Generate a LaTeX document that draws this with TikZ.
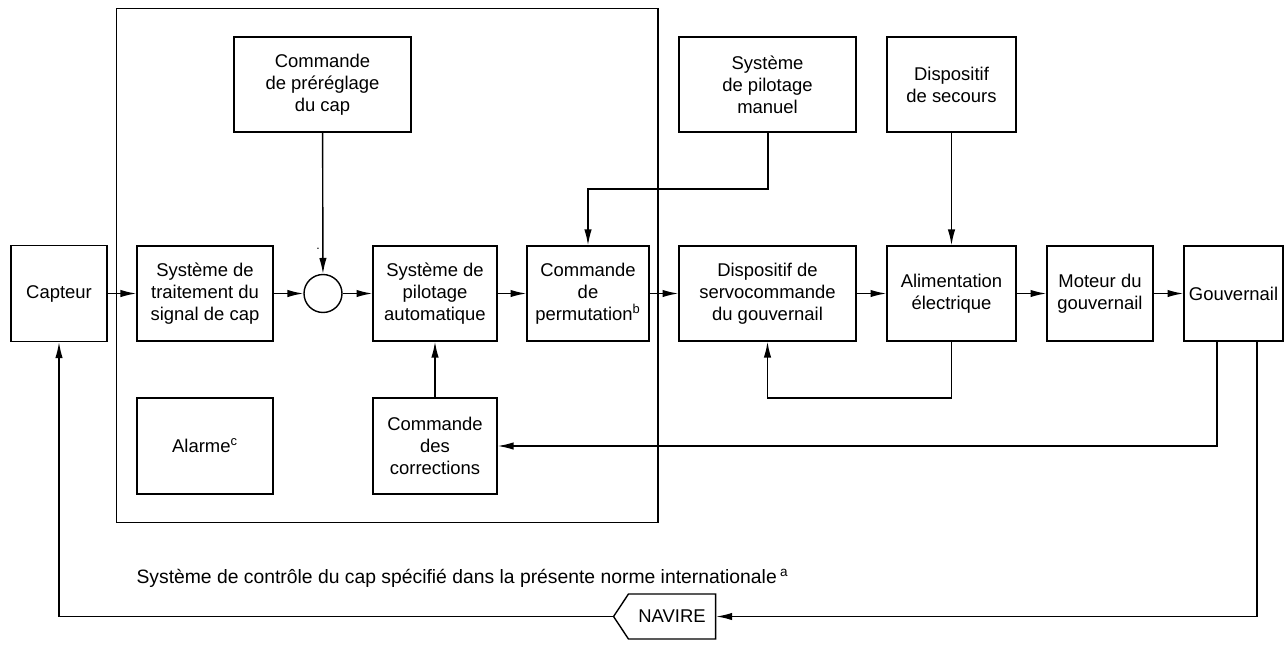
\documentclass[tikz,border=0pt]{standalone}
\usepackage{fontspec}
\setmainfont{Liberation Sans}
\usetikzlibrary{arrows.meta, shapes.symbols, positioning}
\tikzset{
    bloc/.style={draw, rectangle, align=center, inner sep=1pt, minimum height=1.9cm,
        font=\fontsize{10.5}{12.5}\selectfont},
    fleche/.style={-{Latex[length=9pt, width=4.2pt]}}
}

\begin{document}
\begin{tikzpicture}[x=0.02cm, y=-0.02cm, line width=0.8pt]
    \useasboundingbox (0,0) rectangle (1288,646);
    % cadre du systeme de controle du cap
    \draw (116.5,8.5) rectangle (658,522.5);
    \node[anchor=base west, font=\fontsize{11}{13}\selectfont] (legende) at (130,583)
        {Système de contrôle du cap spécifié dans la présente norme internationale\,\textsuperscript{a}};
    % chaine principale
    \node[bloc, minimum width=1.92cm, minimum height=1.92cm] (capteur) at (59,293.5) {Capteur};
    \node[bloc, minimum width=2.72cm] (traitement) at (205,293.5) {Système de\\traitement du\\signal de cap};
    \node[draw, circle, minimum size=0.76cm, inner sep=0pt] (somme) at (323,293.5) {};
    \node[font=\scriptsize, inner sep=0pt] (point) at (318,249) {.};
    \node[bloc, minimum width=2.48cm] (auto) at (435,293.5) {Système de\\pilotage\\automatique};
    \node[bloc, minimum width=2.44cm] (permut) at (588,293.5) {Commande\\de\\permutation\textsuperscript{b}};
    \node[bloc, minimum width=3.54cm] (servo) at (767.5,293.5) {Dispositif de\\servocommande\\du gouvernail};
    \node[bloc, minimum width=2.58cm] (alim) at (951.5,293.5) {Alimentation\\électrique};
    \node[bloc, minimum width=2.12cm] (moteur) at (1100,293.5) {Moteur du\\gouvernail};
    \node[bloc, minimum width=1.98cm] (gouv) at (1233.5,293.5) {Gouvernail};
    % blocs du haut
    \node[bloc, minimum width=3.54cm] (prereglage) at (322.5,84.5) {Commande\\de préréglage\\du cap};
    \node[bloc, minimum width=3.54cm] (manuel) at (767.5,84.5) {Système\\de pilotage\\manuel};
    \node[bloc, minimum width=2.58cm] (secours) at (951.5,84.5) {Dispositif\\de secours};
    % blocs du bas
    \node[bloc, minimum width=2.72cm, minimum height=1.92cm] (alarme) at (205,446) {Alarme\textsuperscript{c}};
    \node[bloc, minimum width=2.48cm, minimum height=1.92cm] (corrections) at (435,446) {Commande\\des\\corrections};
    \node[draw, signal, signal to=west, signal pointer angle=113, minimum width=2.04cm,
        minimum height=0.9cm, inner sep=1pt, font=\fontsize{10.5}{12.5}\selectfont] (navire) at (672,616.5) {NAVIRE};
    % points de passage
    \coordinate (manuel coude) at (768,189);
    \coordinate (alim coude) at (951.5,398);
    \coordinate (gouv a) at (1217,341);
    \coordinate (gouv b) at (1257,341);
    \coordinate (gouv b coude) at (1257,616.5);
    \coordinate (navire coude) at (59,616.5);
    % liaisons
    \draw[fleche] (capteur) -- (traitement);
    \draw[fleche] (traitement) -- (somme);
    \draw[fleche] (somme) -- (auto);
    \draw[fleche] (auto) -- (permut);
    \draw[fleche] (permut) -- (servo);
    \draw[fleche] (servo) -- (alim);
    \draw[fleche] (alim) -- (moteur);
    \draw[fleche] (moteur) -- (gouv);
    \draw[fleche] (prereglage) -- (somme);
    \draw[fleche] (manuel.south -| manuel coude) -- (manuel coude) -| (permut.north);
    \draw[fleche] (secours) -- (alim);
    \draw[fleche] (alim.south) -- (alim coude) -| (servo.south);
    \draw[fleche] (corrections) -- (auto);
    \draw[fleche] (gouv a) |- (corrections.east);
    \draw[fleche] (gouv b) -- (gouv b coude) -- (navire.east);
    \draw[fleche] (navire.west) -- (navire coude) -- (capteur.south);
\end{tikzpicture}
\end{document}
